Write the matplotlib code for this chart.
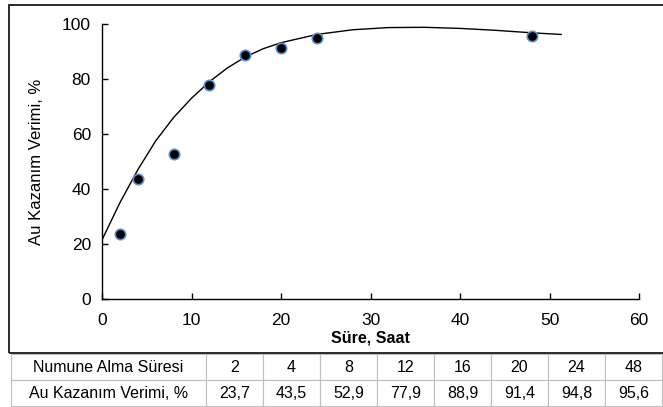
import matplotlib
matplotlib.use("Agg")
import matplotlib.pyplot as plt
from matplotlib.patches import Rectangle

plt.rcParams['font.family'] = ['Liberation Sans', 'DejaVu Sans']

# data
sure = [2, 4, 8, 12, 16, 20, 24, 48]
verim = [23.7, 43.5, 52.9, 77.9, 88.9, 91.4, 94.8, 95.6]
sure_labels = ['2', '4', '8', '12', '16', '20', '24', '48']
verim_labels = ['23,7', '43,5', '52,9', '77,9', '88,9', '91,4', '94,8', '95,6']

# trend line, values
trend_x = [0, 2, 4, 6, 8, 10, 12, 14, 16, 18, 20, 24, 28, 32, 36, 40, 44, 48, 51.3]
trend_y = [21.5, 35.0, 47.0, 57.5, 66.0, 73.0, 79.0, 84.0, 88.0, 91.0, 93.2,
           96.2, 97.9, 98.7, 98.8, 98.4, 97.7, 96.8, 96.2]

x_ticks = [0, 10, 20, 30, 40, 50, 60]
y_ticks = [0, 20, 40, 60, 80, 100]

fig = plt.figure(figsize=(6.63, 4.07), dpi=100)
ax = fig.add_axes([102 / 663, 1 - 299 / 407, 537 / 663, 275 / 407])

ax.plot(trend_x, trend_y, color='black', lw=1.0, zorder=2)
ax.plot(sure, verim, 'o', ms=7.5, mfc='black', mec='#5b8fd0', mew=1.2, zorder=3)

ax.set_xlim(0, 60)
ax.set_ylim(0, 100)
ax.set_xticks(x_ticks)
ax.set_yticks(y_ticks)
ax.tick_params(direction='in', length=4, width=1, labelsize=12.5, color='black')
ax.tick_params(axis='x', pad=10)
ax.tick_params(axis='y', pad=8)
ax.spines['top'].set_visible(False)
ax.spines['right'].set_visible(False)
ax.spines['left'].set_linewidth(1)
ax.spines['bottom'].set_linewidth(1)

ax.set_xlabel('Süre, Saat', fontsize=11.5, fontweight='bold', labelpad=2)
ax.set_ylabel('Au Kazanım Verimi, %', fontsize=12, labelpad=13)

# outer chart border
fig.add_artist(Rectangle((9 / 663, 54 / 407), 1.0, 348 / 407,
                         transform=fig.transFigure, fill=False,
                         edgecolor='#1a1a1a', lw=1.3, clip_on=False))

# data table below the chart
tax = fig.add_axes([11 / 663, 1 / 407, 651 / 663, 52 / 407])
tax.axis('off')
cells = [['Numune Alma Süresi'] + sure_labels,
         ['Au Kazanım Verimi, %'] + verim_labels]
col_w = [195] + [57] * len(sure_labels)
tbl = tax.table(cellText=cells, colWidths=[w / sum(col_w) for w in col_w],
                cellLoc='center', bbox=[0, 0, 1, 1])
tbl.auto_set_font_size(False)
tbl.set_fontsize(11.5)
for cell in tbl.get_celld().values():
    cell.set_edgecolor('#bfbfbf')
    cell.set_linewidth(0.8)

fig.savefig('out.png', dpi=100)
